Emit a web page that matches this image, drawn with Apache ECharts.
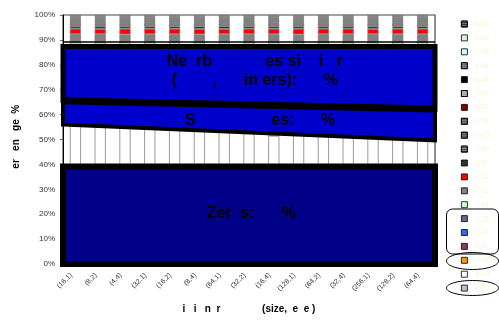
<!DOCTYPE html>
<html>
<head>
<meta charset="utf-8">
<script src="https://cdn.jsdelivr.net/npm/echarts@6/dist/echarts.min.js"></script>
<style>
  html, body { margin: 0; padding: 0; background: #ffffff; }
  #chart { width: 499px; height: 328px; }
</style>
</head>
<body>
<div id="chart"></div>
<script>
// (size, degree) configurations along the x axis
const categories = ['(16,1)', '(8,2)', '(4,4)', '(32,1)', '(16,2)', '(8,4)', '(64,1)', '(32,2)',
                    '(16,4)', '(128,1)', '(64,2)', '(32,4)', '(256,1)', '(128,2)', '(64,4)'];

// Stack segments, listed from the bottom of each column to the top (share of all values)
const zeros    = [39.2, 39.0, 38.9, 39.1, 39.0, 38.8, 39.2, 39.0, 38.9, 39.1, 39.0, 38.9, 39.1, 38.9, 38.8];
const whiteSeg = [16.9, 16.7, 16.4, 15.7, 15.4, 15.2, 14.3, 14.1, 12.6, 13.1, 12.8, 12.5, 11.9, 11.6, 11.3];
const orange   = [8.8, 8.9, 9.1, 9.5, 9.7, 9.9, 10.3, 10.5, 11.8, 11.0, 11.0, 11.2, 11.4, 11.6, 11.6];
const purple   = [7.4, 7.5, 7.6, 7.6, 7.7, 7.8, 7.9, 8.0, 8.1, 8.1, 8.2, 8.3, 8.3, 8.4, 8.5];
const blue     = [8.6, 8.7, 8.7, 8.8, 8.9, 8.9, 9.0, 9.1, 9.2, 9.2, 9.3, 9.4, 9.4, 9.5, 9.6];
const slate    = [7.1, 7.2, 7.3, 7.3, 7.3, 7.4, 7.3, 7.3, 7.4, 7.5, 7.7, 7.7, 7.9, 8.0, 8.2];
const green14  = [1.0, 1.0, 1.0, 1.0, 1.0, 1.0, 1.0, 1.0, 1.0, 1.0, 1.0, 1.0, 1.0, 1.0, 1.0];
const gray13   = [3.3, 3.3, 3.2, 3.3, 3.3, 3.2, 3.3, 3.3, 3.3, 3.2, 3.3, 3.3, 3.3, 3.3, 3.3];
const red12    = [2.2, 2.1, 2.3, 2.2, 2.2, 2.2, 2.1, 2.2, 2.2, 2.3, 2.2, 2.2, 2.1, 2.2, 2.2];
const dark11   = [1.0, 1.1, 1.0, 1.0, 1.0, 1.1, 1.1, 1.0, 1.0, 1.0, 1.0, 1.0, 1.1, 1.0, 1.0];
const hatch10  = [0.5, 0.5, 0.5, 0.5, 0.5, 0.5, 0.5, 0.5, 0.5, 0.5, 0.5, 0.5, 0.5, 0.5, 0.5];
const hatch9   = [0.5, 0.5, 0.5, 0.5, 0.5, 0.5, 0.5, 0.5, 0.5, 0.5, 0.5, 0.5, 0.5, 0.5, 0.5];
const hatch8   = [0.4, 0.4, 0.4, 0.4, 0.4, 0.4, 0.4, 0.4, 0.4, 0.4, 0.4, 0.4, 0.4, 0.4, 0.4];
const maroon7  = [0.3, 0.3, 0.3, 0.3, 0.3, 0.3, 0.3, 0.3, 0.3, 0.3, 0.3, 0.3, 0.3, 0.3, 0.3];
const hatch6   = [0.5, 0.5, 0.5, 0.5, 0.5, 0.5, 0.5, 0.5, 0.5, 0.5, 0.5, 0.5, 0.5, 0.5, 0.5];
const black5   = [0.6, 0.6, 0.6, 0.6, 0.6, 0.6, 0.6, 0.6, 0.6, 0.6, 0.6, 0.6, 0.6, 0.6, 0.6];
const hatch4   = [0.4, 0.4, 0.4, 0.4, 0.4, 0.4, 0.4, 0.4, 0.4, 0.4, 0.4, 0.4, 0.4, 0.4, 0.4];
const cyan3    = [0.3, 0.3, 0.3, 0.3, 0.3, 0.3, 0.3, 0.3, 0.3, 0.3, 0.3, 0.3, 0.3, 0.3, 0.3];
const green2   = [0.3, 0.3, 0.3, 0.3, 0.3, 0.3, 0.3, 0.3, 0.3, 0.3, 0.3, 0.3, 0.3, 0.3, 0.3];
const hatch1   = [0.7, 0.7, 0.7, 0.7, 0.7, 0.7, 0.7, 0.7, 0.7, 0.7, 0.7, 0.7, 0.7, 0.7, 0.7];

// Legend captions (bottom of stack first)
const seriesNames = ['c-20', 'c-19', 'c-18', 'c-17', 'c-16', 'c-15', 'c-14', 'c-13', 'c-12', 'c-11',
                     'c-10', 'c-09', 'c-08', 'c-07', 'c-06', 'c-05', 'c-04', 'c-03', 'c-02', 'c-01'];

// Percentage axis ticks
const yMin = 0, yMax = 100, yStep = 10;

// Summary panels drawn over the columns, [left edge, right edge] in percent
const zerosTop     = [39.2, 39.2];
const sharesBottom = [56.0, 49.6];
const dividerEdge  = [65.6, 62.2];
const nearbyTop    = [87.3, 87.3];
const ruleLine     = [89.2, 89.2];

const segments = [zeros, whiteSeg, orange, purple, blue, slate, green14, gray13, red12, dark11,
                  hatch10, hatch9, hatch8, maroon7, hatch6, black5, hatch4, cyan3, green2, hatch1];

const dots = (c) => ({ symbol: 'rect', symbolSize: 1, dashArrayX: [1, 1], dashArrayY: [1, 1], color: c, rotation: 0 });
const styles = [
  { color: '#c0c0c0' }, { color: '#ffffff' }, { color: '#ff9900' }, { color: '#993366' },
  { color: '#3366ff' }, { color: '#666699' }, { color: '#ccffcc' }, { color: '#808080' },
  { color: '#ff0000' }, { color: '#333333' },
  { color: '#4d4d4d', decal: dots('rgba(255,255,255,0.7)') },
  { color: '#777777', decal: dots('rgba(0,0,0,0.6)') },
  { color: '#4d4d4d', decal: dots('rgba(255,255,255,0.7)') },
  { color: '#800000' },
  { color: '#cccccc', decal: dots('rgba(0,0,0,0.6)') },
  { color: '#000000' },
  { color: '#555555', decal: dots('rgba(255,255,255,0.75)') },
  { color: '#ccffff' }, { color: '#ccffcc' },
  { color: '#333333', decal: dots('rgba(255,255,255,0.65)') }
];

// 100% stacking: each column is scaled to its own total
const totals = categories.map((_, i) => segments.reduce((s, arr) => s + arr[i], 0));
const pct = segments.map(arr => arr.map((v, i) => v / totals[i] * 100));

const BAR_FRAC = 0.45;
const FONT = '"Liberation Sans", Arial, sans-serif';

const barSeries = pct.map((arr, k) => ({
  name: seriesNames[k],
  type: 'bar',
  stack: 'all',
  barWidth: (BAR_FRAC * 100) + '%',
  z: 2,
  data: arr,
  itemStyle: Object.assign({ borderColor: '#808080', borderWidth: 0.8 }, styles[k]),
  emphasis: { disabled: true }
}));

// Summary panels spanning the plot width
const overlaySeries = {
  type: 'custom',
  z: 4,
  silent: true,
  clip: false,
  xAxisIndex: 1,
  yAxisIndex: 0,
  data: [[0, 0], [0, 0], [0, 0], [0, 0], [0, 0]],
  renderItem: function (params, api) {
    const P = (x, y) => api.coord([x, y]);
    const quad = (lo, hi) => [P(0, lo[0]), P(1, lo[1]), P(1, hi[1]), P(0, hi[0])];
    switch (params.dataIndex) {
      case 0:
        return { type: 'polygon', shape: { points: quad([0, 0], zerosTop) },
                 style: { fill: '#000088', stroke: '#000', lineWidth: 6, lineJoin: 'miter' } };
      case 1:
        return { type: 'polygon', shape: { points: quad(sharesBottom, dividerEdge) },
                 style: { fill: '#0000cc', stroke: '#000', lineWidth: 4, lineJoin: 'miter' } };
      case 2:
        return { type: 'polygon', shape: { points: quad(dividerEdge, nearbyTop) },
                 style: { fill: '#0000cc', stroke: '#000', lineWidth: 5, lineJoin: 'miter' } };
      case 3:
        return { type: 'polyline', shape: { points: [P(0, dividerEdge[0]), P(1, dividerEdge[1])] },
                 style: { stroke: '#000', lineWidth: 7, fill: null } };
      case 4:
        return { type: 'polyline', shape: { points: [P(0, ruleLine[0]), P(1, ruleLine[1])] },
                 style: { stroke: '#000', lineWidth: 1.5, fill: null } };
    }
    return null;
  }
};

const bold16 = { fontFamily: FONT, fontWeight: 'bold', fontSize: 16, fill: '#000' };

const option = {
  animation: false,
  backgroundColor: '#ffffff',
  textStyle: { fontFamily: FONT },
  grid: { left: 63, right: 64, top: 15, bottom: 64, show: true, borderColor: '#444', borderWidth: 1.2, backgroundColor: 'transparent' },
  legend: {
    orient: 'vertical',
    left: 456,
    top: 15,
    itemWidth: 6,
    itemHeight: 6,
    itemGap: 5.9,
    selectedMode: false,
    data: seriesNames.slice().reverse(),
    icon: 'rect',
    itemStyle: { borderColor: '#000', borderWidth: 0.8 },
    textStyle: { fontSize: 7, lineHeight: 8, color: '#f6f6cc', padding: [0, 0, 0, 3], fontFamily: FONT }
  },
  xAxis: [
    {
      type: 'category',
      data: categories,
      boundaryGap: true,
      name: 'i   i   n  r               (size,  e  e )',
      nameLocation: 'middle',
      nameGap: 40,
      nameTextStyle: { fontSize: 10, fontWeight: 'bold', color: '#000', fontFamily: FONT },
      axisLine: { show: false },
      axisTick: { show: false },
      axisLabel: { rotate: 45, fontSize: 7, color: '#333', margin: 6, padding: [0, 6, 0, 0], interval: 0, fontFamily: FONT },
      splitLine: { show: false }
    },
    { type: 'value', min: 0, max: 1, show: false }
  ],
  yAxis: {
    type: 'value',
    min: yMin,
    max: yMax,
    interval: yStep,
    name: '  er   en   ge  %',
    nameLocation: 'middle',
    nameGap: 42,
    nameRotate: 90,
    nameTextStyle: { fontSize: 10, fontWeight: 'bold', color: '#000', fontFamily: FONT },
    axisLine: { show: true, lineStyle: { color: '#000', width: 1 } },
    axisTick: { show: true, length: 3, lineStyle: { color: '#666' } },
    axisLabel: { formatter: '{value}%', fontSize: 8, color: '#333', margin: 8, fontFamily: FONT },
    splitLine: { show: false }
  },
  series: barSeries.concat([overlaySeries]),
  graphic: [
    { type: 'text', z: 100, left: 166.7, top: 54, style: Object.assign({ text: 'Ne  rb            es si    i   r' }, bold16) },
    { type: 'text', z: 100, left: 171.7, top: 73, style: Object.assign({ text: '(        ,      in ers):      %' }, bold16) },
    { type: 'text', z: 100, left: 185, top: 113, style: Object.assign({ text: 'S                 es:      %' }, bold16) },
    { type: 'text', z: 100, left: 206.7, top: 206, style: Object.assign({ text: 'Zer  s:      %' }, bold16) },
    { type: 'rect', z: 100, shape: { x: 446.5, y: 209, width: 52, height: 45, r: 6 }, style: { fill: null, stroke: '#000', lineWidth: 1 } },
    { type: 'ellipse', z: 100, shape: { cx: 472.5, cy: 261, rx: 26, ry: 8.5 }, style: { fill: null, stroke: '#000', lineWidth: 1 } },
    { type: 'ellipse', z: 100, shape: { cx: 472.5, cy: 288, rx: 26, ry: 7.5 }, style: { fill: null, stroke: '#000', lineWidth: 1 } }
  ]
};

const chart = echarts.init(document.getElementById('chart'), null, { renderer: 'canvas' });
chart.setOption(option);
</script>
</body>
</html>
